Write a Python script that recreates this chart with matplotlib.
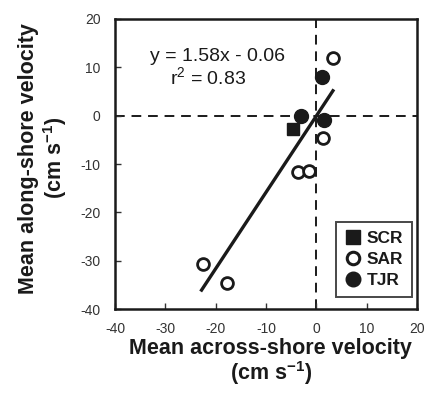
import matplotlib
matplotlib.use("Agg")
import matplotlib.pyplot as plt
import numpy as np
from matplotlib.lines import Line2D

plt.rcParams['font.family'] = ['Liberation Sans', 'DejaVu Sans']
plt.rcParams['axes.unicode_minus'] = False
plt.rcParams['mathtext.fontset'] = 'custom'
plt.rcParams['mathtext.rm'] = 'Liberation Sans'
plt.rcParams['mathtext.it'] = 'Liberation Sans'
plt.rcParams['mathtext.bf'] = 'Liberation Sans:bold'

scr_x = [-4.6]
scr_y = [-2.7]
sar_x = [3.4, 1.3, -3.7, -1.4, -22.6, -17.8]
sar_y = [11.9, -4.7, -11.6, -11.4, -30.6, -34.7]
tjr_x = [-3.0, 1.2, 1.5]
tjr_y = [-0.1, 7.9, -0.9]
slope, intercept = 1.58, -0.06
fit_x = [-22.8, 3.3]
xticks = [-40, -30, -20, -10, 0, 10, 20]
yticks = [-40, -30, -20, -10, 0, 10, 20]

ink = '#1a1a1a'
fig = plt.figure(figsize=(4.31, 3.94), dpi=100)
ax = fig.add_axes([0.2668, 0.2157, 0.7007, 0.7361])
ax.set_xlim(-40, 20)
ax.set_ylim(-40, 20)
ax.set_xticks(xticks)
ax.set_yticks(yticks)
ax.tick_params(direction='in', length=4, width=1, labelsize=10, colors='#333333')
ax.tick_params(axis='y', pad=10.5)
ax.tick_params(axis='x', pad=9)
for s in ax.spines.values():
    s.set_linewidth(1.8)
    s.set_color(ink)

ax.axhline(0, color=ink, lw=1.4, ls=(0, (5, 3.5)), zorder=1)
ax.axvline(0, color=ink, lw=1.4, ls=(0, (5, 3.5)), zorder=1)

fx = np.array(fit_x)
ax.plot(fx, slope * fx + intercept, color=ink, lw=2.4, zorder=2)

ax.plot(scr_x, scr_y, 's', ms=9, color=ink, zorder=3)
ax.plot(sar_x, sar_y, 'o', ms=8.5, mfc='white', mec=ink, mew=2, ls='none', zorder=3)
ax.plot(tjr_x, tjr_y, 'o', ms=10, color=ink, ls='none', zorder=3)

ax.text(-19.6, 11.4, 'y = 1.58x - 0.06', fontsize=14, color=ink, ha='center', va='baseline')
ax.text(-21.6, 6.6, 'r$^2$ = 0.83', fontsize=14, color=ink, ha='center', va='baseline')

handles = [
    Line2D([], [], marker='s', ms=10, color=ink, ls='none'),
    Line2D([], [], marker='o', ms=9, mfc='white', mec=ink, mew=2.2, ls='none'),
    Line2D([], [], marker='o', ms=10.5, color=ink, ls='none'),
]
leg = ax.legend(handles, ['SCR', 'SAR', 'TJR'], loc='lower right', bbox_to_anchor=(0.985, 0.04),
                frameon=True, fancybox=False, edgecolor=ink, handlelength=0.9,
                handletextpad=0.3, borderpad=0.55, labelspacing=0.32, borderaxespad=0.0,
                prop={'weight': 'bold', 'size': 12.5})
leg.get_frame().set_linewidth(1.4)
for t in leg.get_texts():
    t.set_color(ink)

ax.set_xlabel('Mean across-shore velocity\n(cm s$^{\\mathbf{-1}}$)', fontsize=15.5, fontweight='bold',
              color=ink, linespacing=1.0)
ax.set_ylabel('Mean along-shore velocity\n(cm s$^{\\mathbf{-1}}$)', fontsize=15.5, fontweight='bold',
              color=ink, linespacing=1.1)
ax.xaxis.label.set_va('center')
ax.yaxis.label.set_va('center')
ax.xaxis.set_label_coords(0.516, -0.184)
ax.yaxis.set_label_coords(-0.236, 0.52)

fig.savefig('out.png', dpi=100)
